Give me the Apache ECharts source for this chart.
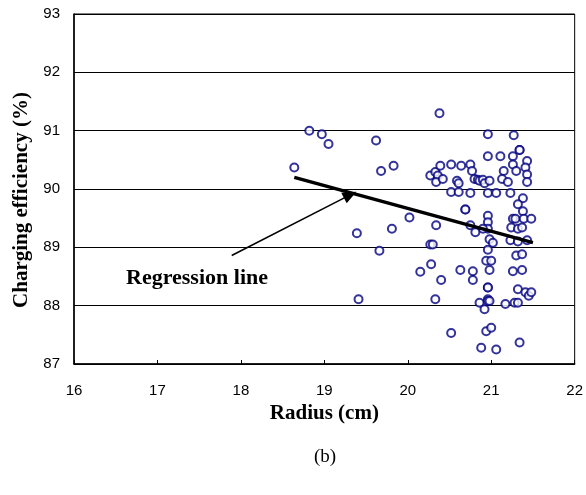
<!DOCTYPE html>
<html>
<head>
<meta charset="utf-8">
<script src="https://cdn.jsdelivr.net/npm/echarts@6/dist/echarts.min.js"></script>
<style>
  body { margin: 0; background: #fff; }
  #chart { width: 586px; height: 495px; }
</style>
</head>
<body>
<div id="chart"></div>
<script>
// radius (cm) of each measured sample
var radius = [
  18.64, 18.82, 18.97, 19.05, 19.62, 19.68, 19.83, 19.39, 19.41, 19.66,
  19.81, 20.02, 20.38, 20.27, 20.33, 20.36, 20.39, 20.34, 20.42, 20.52,
  20.64, 20.52, 20.61, 20.59, 20.61, 20.75, 20.77, 20.75, 20.69, 20.69,
  20.80, 20.84, 20.86, 20.90, 20.92, 20.98, 20.96, 20.96, 20.96, 21.06,
  21.11, 21.15, 21.13, 21.20, 21.23, 21.27, 21.26, 21.26, 21.30, 21.34,
  21.34, 21.43, 21.41, 21.43, 21.43, 21.38, 21.32, 21.38, 21.26, 21.29,
  21.39, 21.48, 21.24, 21.32, 21.37, 21.23, 21.32, 21.43, 21.30, 21.37,
  21.26, 21.37, 21.32, 21.41, 21.45, 21.48, 21.17, 21.28, 21.32, 21.34,
  21.06, 20.88, 20.52, 20.94, 21.00, 20.86, 20.92, 20.96, 20.96, 20.98,
  20.96, 20.96, 20.78, 20.78, 20.63, 20.98, 20.94, 21.00, 20.96, 20.98,
  21.02, 20.96, 20.96, 20.96, 20.75, 20.90, 20.81, 20.34, 20.27, 20.30,
  20.28, 20.15, 20.40, 20.33
];
// charging efficiency (%) for the same samples
var efficiency = [
  90.37, 91.00, 90.94, 90.77, 90.83, 90.31, 90.40, 89.24, 88.11, 88.94,
  89.32, 89.51, 91.30, 90.23, 90.29, 90.23, 90.40, 90.12, 90.17, 90.42,
  90.40, 89.95, 89.95, 90.14, 90.10, 90.42, 90.31, 89.93, 89.65, 89.65,
  90.17, 90.16, 90.14, 90.16, 90.10, 90.14, 90.94, 90.56, 89.93, 89.93,
  90.56, 90.31, 90.17, 90.12, 89.93, 90.92, 90.56, 90.42, 90.31, 90.67,
  90.67, 90.48, 90.37, 90.25, 90.12, 89.84, 89.74, 89.62, 89.49, 89.49,
  89.49, 89.49, 89.34, 89.32, 89.34, 89.12, 89.10, 89.12, 88.86, 88.88,
  88.59, 88.61, 88.28, 88.23, 88.17, 88.23, 88.03, 88.05, 88.05, 87.37,
  87.25, 87.28, 87.53, 87.56, 87.62, 88.05, 87.94, 88.11, 88.08, 88.08,
  88.31, 88.31, 88.59, 88.44, 88.61, 88.61, 88.77, 88.77, 88.96, 89.14,
  89.08, 89.54, 89.43, 89.32, 89.38, 89.32, 89.26, 89.38, 89.05, 89.05,
  88.71, 88.58, 88.44, 88.11
];
// regression line end points
var regX = [18.64, 21.50];
var regY = [90.20, 89.08];
// arrow pointing at the regression line
var arrowFrom = [17.89, 88.86];
var arrowTo = [19.31, 89.90];

var points = radius.map(function (r, i) { return [r, efficiency[i]]; });
var regLine = regX.map(function (x, i) { return [x, regY[i]]; });

var chart = echarts.init(document.getElementById('chart'));
var serif = '"Liberation Serif", "Times New Roman", serif';
var sans = '"Liberation Sans", Arial, sans-serif';

chart.setOption({
  animation: false,
  backgroundColor: '#fff',
  grid: {
    left: 74, right: 8, top: 14, bottom: 131,
    show: true, borderColor: '#000', borderWidth: 1
  },
  xAxis: {
    type: 'value', min: 16, max: 22, interval: 1,
    name: 'Radius (cm)', nameLocation: 'middle', nameGap: 36,
    nameTextStyle: { fontFamily: serif, fontWeight: 'bold', fontSize: 21, color: '#000' },
    axisLine: { lineStyle: { color: '#000', width: 1.5 } },
    axisTick: { inside: true, length: 4, lineStyle: { color: '#000' } },
    axisLabel: { fontFamily: sans, fontSize: 15, color: '#000', margin: 19 },
    splitLine: { show: false }
  },
  yAxis: {
    type: 'value', min: 87, max: 93, interval: 1,
    axisLine: { show: true, lineStyle: { color: '#000', width: 1.5 } },
    axisTick: { show: false },
    axisLabel: { fontFamily: sans, fontSize: 15, color: '#000', margin: 14 },
    splitLine: { show: true, lineStyle: { color: '#000', width: 1 } }
  },
  series: [
    {
      type: 'scatter',
      data: points,
      symbol: 'emptyCircle',
      symbolSize: 8,
      itemStyle: { color: '#000080', borderWidth: 1.5 },
      markLine: {
        silent: true,
        symbol: ['none', 'triangle'],
        symbolSize: [12, 14],
        label: { show: false },
        lineStyle: { color: '#000', width: 1.5, type: 'solid' },
        data: [[{ coord: arrowFrom }, { coord: arrowTo }]]
      }
    },
    {
      type: 'line',
      data: regLine,
      symbol: 'none',
      lineStyle: { color: '#000', width: 3.5 },
      z: 3
    }
  ],
  graphic: [
    {
      type: 'text', x: 22, y: 200, rotation: Math.PI / 2,
      style: {
        text: 'Charging efficiency (%)', fontFamily: serif, fontWeight: 'bold', fontSize: 21,
        fill: '#000', align: 'center', verticalAlign: 'middle'
      }
    },
    {
      type: 'text', x: 197, y: 278,
      style: {
        text: 'Regression line', fontFamily: serif, fontWeight: 'bold', fontSize: 22,
        fill: '#000', align: 'center', verticalAlign: 'middle'
      }
    },
    {
      type: 'text', x: 325, y: 457,
      style: { text: '(b)', fontFamily: serif, fontSize: 19, fill: '#000', align: 'center', verticalAlign: 'middle' }
    }
  ]
});
</script>
</body>
</html>
